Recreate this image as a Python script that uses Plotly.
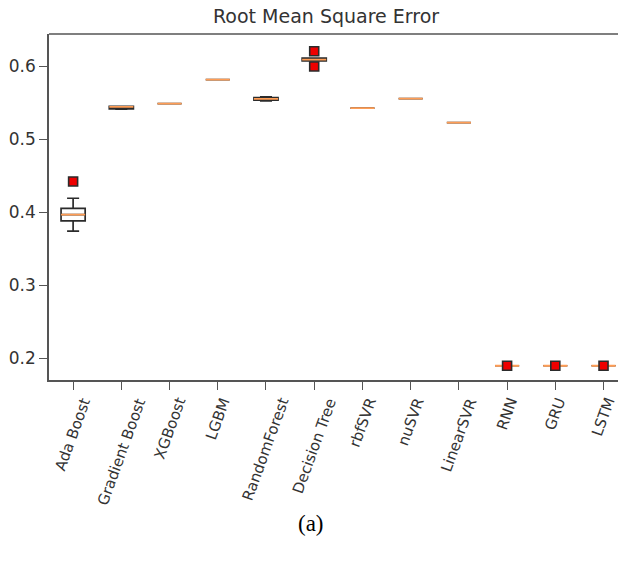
import plotly.graph_objects as go

models = ["Ada Boost", "Gradient Boost", "XGBoost", "LGBM", "RandomForest", "Decision Tree",
          "rbfSVR", "nuSVR", "LinearSVR", "RNN", "GRU", "LSTM"]
lower = [0.374, 0.5410, 0.5485, 0.5815, 0.5525, 0.6070, 0.5425, 0.5555, 0.5225, 0.1895, 0.1895, 0.1895]
q1 =    [0.388, 0.5415, 0.5485, 0.5815, 0.5535, 0.6070, 0.5425, 0.5555, 0.5225, 0.1895, 0.1895, 0.1895]
median = [0.3965, 0.5442, 0.5485, 0.5815, 0.5552, 0.6090, 0.5425, 0.5555, 0.5225, 0.1895, 0.1895, 0.1895]
q3 =    [0.405, 0.5448, 0.5485, 0.5815, 0.5570, 0.6110, 0.5425, 0.5555, 0.5225, 0.1895, 0.1895, 0.1895]
upper = [0.419, 0.5450, 0.5485, 0.5815, 0.5580, 0.6110, 0.5425, 0.5555, 0.5225, 0.1895, 0.1895, 0.1895]
outliers = [[0.442], [], [], [], [], [0.6203, 0.5995], [], [], [], [0.1895], [0.1895], [0.1895]]
yticks = [0.2, 0.3, 0.4, 0.5, 0.6]

ORANGE = "#ff9d55"
DARK = "#2b2b2b"
TXT = "#333333"

W, H = 618, 570
L, R, T, B = 49, 0, 34, 190
PW, PH = W - L - R, H - T - B

fig = go.Figure()
positions = list(range(1, len(models) + 1))
for i, name in enumerate(models):
    x = positions[i]
    fig.add_trace(go.Box(
        x=[x], q1=[q1[i]], median=[median[i]], q3=[q3[i]],
        lowerfence=[lower[i]], upperfence=[upper[i]],
        width=0.5, whiskerwidth=0.5, boxpoints=False,
        fillcolor="white", line=dict(color=DARK, width=1.7),
        showlegend=False, hoverinfo="skip"))
    m = median[i]
    fig.add_trace(go.Box(
        x=[x], q1=[m], median=[m], q3=[m], lowerfence=[m], upperfence=[m],
        width=0.5, whiskerwidth=0, boxpoints=False,
        fillcolor=ORANGE, line=dict(color=ORANGE, width=1.8),
        showlegend=False, hoverinfo="skip"))

ox, oy = [], []
for i, vals in enumerate(outliers):
    for v in vals:
        ox.append(positions[i])
        oy.append(v)
fig.add_trace(go.Scatter(
    x=ox, y=oy, mode="markers",
    marker=dict(symbol="square", size=9, color="#ee0000", line=dict(color=DARK, width=1.6)),
    showlegend=False, hoverinfo="skip"))

for i, name in enumerate(models):
    fig.add_annotation(x=positions[i], y=0, xref="x", yref="paper", text=name,
                       textangle=-70, showarrow=False, xanchor="center", yanchor="top",
                       yshift=-13, font=dict(family="DejaVu Sans", size=15, color=TXT))

fig.add_annotation(x=(326 - L) / PW, y=1 + (T - 16) / PH, xref="paper", yref="paper",
                   text="Root Mean Square Error", showarrow=False, xanchor="center", yanchor="middle",
                   font=dict(family="DejaVu Sans", size=19, color=TXT))

fig.add_annotation(x=(311 - L) / PW, y=-(523 - (H - B)) / PH, xref="paper", yref="paper",
                   text="(a)", showarrow=False, xanchor="center", yanchor="middle",
                   font=dict(family="Liberation Serif", size=23, color="black"))

fig.add_shape(type="line", xref="paper", yref="paper", x0=0, x1=1, y0=1, y1=1,
              line=dict(color="#555", width=1.7))

fig.update_layout(
    width=W, height=H,
    margin=dict(l=L, r=R, t=T, b=B),
    paper_bgcolor="white", plot_bgcolor="white",
    boxmode="overlay",
    xaxis=dict(range=[0.5, 12.3], tickvals=positions, ticktext=[""] * len(models),
               showgrid=False, zeroline=False, showline=True, linecolor="#555", linewidth=1.7,
               ticks="outside", ticklen=8, tickcolor="#555", tickwidth=1.3),
    yaxis=dict(range=[0.17, 0.644], tickvals=yticks, ticktext=[f"{v:.1f}" for v in yticks],
               showgrid=False, zeroline=False, showline=True, linecolor="#555", linewidth=1.7,
               ticks="outside", ticklen=8, tickcolor="#555", tickwidth=1.3,
               tickfont=dict(family="DejaVu Sans", size=17, color=TXT)),
)

fig.write_html("out.html")
